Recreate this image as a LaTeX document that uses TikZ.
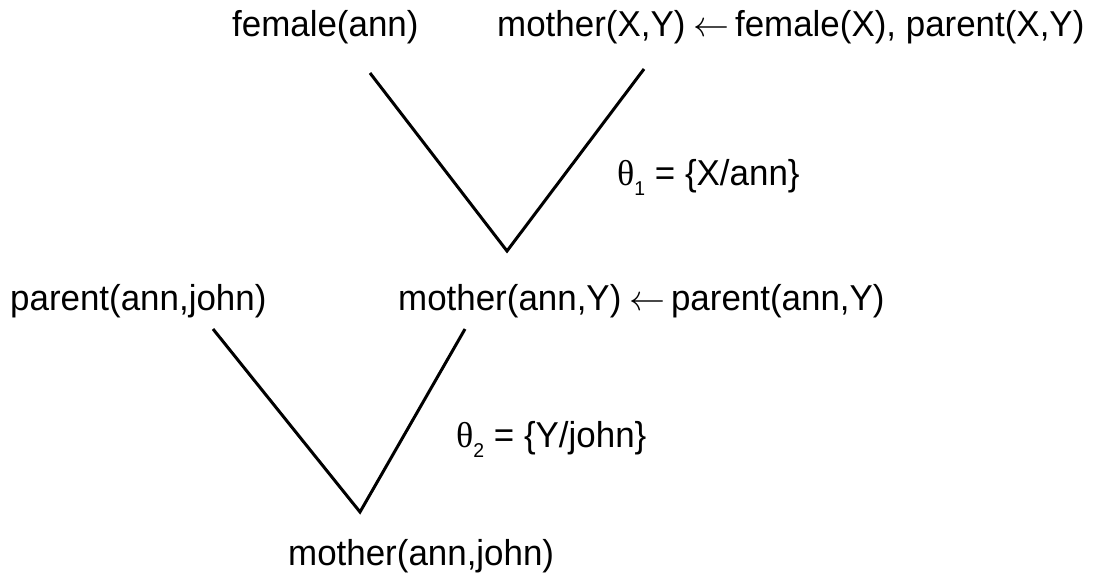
\RequirePackage{fix-cm}
\documentclass[tikz,border=0pt]{standalone}
\usepackage{fontspec}
\setmainfont{Liberation Sans}[FakeStretch=0.97]
\newfontfamily\thetafont{Liberation Serif}
\newcommand{\thsub}[1]{{\thetafont θ}\raisebox{-0.3em}{\fontsize{20}{20}\selectfont #1}}
\newcommand{\larr}{\hspace{0.22em}\(\leftarrow\)\hspace{0.16em}}
\begin{document}
\begin{tikzpicture}[x=1pt,y=-1pt,
  term/.style={anchor=base west,inner sep=0pt,font=\fontsize{36}{40}\selectfont},
  subst/.style={anchor=base west,inner sep=0pt,font=\fontsize{36}{40}\selectfont},
  edge/.style={line width=3pt,line join=miter,black}]
\useasboundingbox (0,0) rectangle (1102,581);
\node[term] (fa) at (232,36) {female(ann)};
\node[term] (r1) at (497,36) {mother(X,Y)\larr female(X), parent(X,Y)};
\node[term] (pj) at (10,310) {parent(ann,john)};
\node[term] (r2) at (398,310) {mother(ann,Y)\larr parent(ann,Y)};
\node[term] (mj) at (288,565) {mother(ann,john)};
\node[subst] (t1) at (617,185) {\thsub{1} = \{X/ann\}};
\node[subst] (t2) at (456,447) {\thsub{2} = \{Y/john\}};
\coordinate (v1l) at (370,73);
\coordinate (v1b) at (507,251);
\coordinate (v1r) at (644,69);
\coordinate (v2l) at (213,329);
\coordinate (v2b) at (360,512);
\coordinate (v2r) at (465,329);
\draw[edge] (v1l) -- (v1b) -- (v1r);
\draw[edge] (v2l) -- (v2b) -- (v2r);
\end{tikzpicture}
\end{document}
